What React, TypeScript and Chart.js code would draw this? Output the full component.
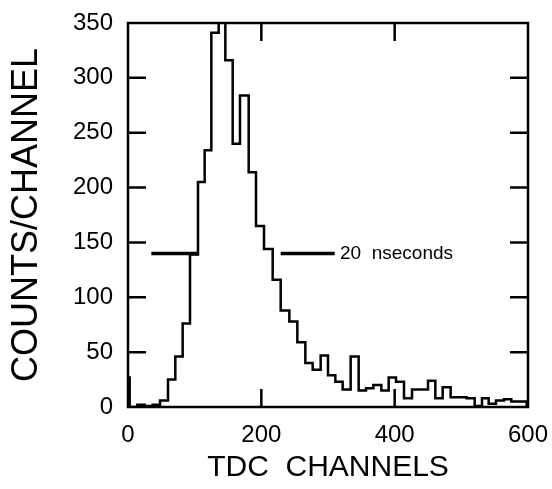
import React, { useEffect, useRef } from "react";
import { Chart, registerables } from "chart.js";

Chart.register(...registerables);

// Histogram bin edges (TDC channels) and counts per bin
const BIN_EDGES = [
  2.5, 14, 25, 37, 48, 60, 71, 82, 93, 105, 115, 125, 136, 146, 157, 168, 181, 192,
  204, 217, 229, 242, 254, 266, 277, 289, 300, 311, 322, 334, 346, 357, 368, 380,
  391, 402, 414, 426, 438, 450, 461, 472, 484, 496, 508, 520, 531, 541, 552, 564,
  575, 586, 598,
];
const COUNTS = [
  28, 0, 2, 1, 2, 6, 25, 46, 76, 139, 205, 234, 341, 360, 316, 240, 284, 214, 165,
  144, 116, 88, 78, 59, 40, 34, 47, 29, 23, 16, 46, 15, 17, 20, 15, 27, 23, 8, 16,
  16, 24, 8, 18, 9, 9, 8, 1, 8, 3, 6, 7, 5,
];

// FWHM marker (channels) and its level
const MARK_LEFT = [35, 105];
const MARK_RIGHT = [229, 310];
const MARK_LEVEL = 140;
const MARK_LABEL = "20  nseconds";
const MARK_LABEL_X = 318;

const X_TICKS = [0, 200, 400, 600];
const X_INNER_TICKS = [200, 400];
const Y_INNER_TICKS = [50, 100, 150, 200, 250, 300];

const X_TITLE = "TDC  CHANNELS";
const Y_TITLE = "COUNTS/CHANNEL";

const FONT = '"Liberation Sans", "DejaVu Sans", sans-serif';

export default function App() {
  const ref = useRef<HTMLCanvasElement>(null);

  useEffect(() => {
    const canvas = ref.current;
    if (!canvas) return;

    const n = COUNTS.length;
    const histPts = [
      { x: BIN_EDGES[0], y: 0 },
      ...COUNTS.map((c, i) => ({ x: BIN_EDGES[i], y: c })),
      { x: BIN_EDGES[n], y: COUNTS[n - 1] },
      { x: BIN_EDGES[n], y: 0 },
    ];

    const framePlugin = {
      id: "frameTicks",
      afterDatasetsDraw(chart: any) {
        const { ctx, chartArea, scales } = chart;
        const { left, right, top, bottom } = chartArea;
        const xs = scales.x;
        const ys = scales.y;
        ctx.save();
        ctx.strokeStyle = "#000";
        ctx.lineWidth = 2.5;
        ctx.strokeRect(left, top, right - left, bottom - top);
        const L = 18;
        ctx.beginPath();
        Y_INNER_TICKS.forEach((v) => {
          const py = ys.getPixelForValue(v);
          ctx.moveTo(left, py);
          ctx.lineTo(left + L, py);
          ctx.moveTo(right, py);
          ctx.lineTo(right - L, py);
        });
        X_INNER_TICKS.forEach((v) => {
          const px = xs.getPixelForValue(v);
          ctx.moveTo(px, bottom);
          ctx.lineTo(px, bottom - L);
          ctx.moveTo(px, top);
          ctx.lineTo(px, top + L);
        });
        ctx.stroke();
        ctx.fillStyle = "#000";
        ctx.font = `19px ${FONT}`;
        ctx.textBaseline = "middle";
        ctx.textAlign = "left";
        ctx.fillText(MARK_LABEL, xs.getPixelForValue(MARK_LABEL_X), ys.getPixelForValue(MARK_LEVEL));
        ctx.restore();
      },
    };

    const chart = new Chart(canvas, {
      type: "line",
      data: {
        datasets: [
          {
            data: histPts,
            stepped: "after",
            borderColor: "#000",
            borderWidth: 2.5,
            pointRadius: 0,
            fill: false,
          },
          {
            data: MARK_LEFT.map((x) => ({ x, y: MARK_LEVEL })),
            borderColor: "#000",
            borderWidth: 3.5,
            pointRadius: 0,
          },
          {
            data: MARK_RIGHT.map((x) => ({ x, y: MARK_LEVEL })),
            borderColor: "#000",
            borderWidth: 3.5,
            pointRadius: 0,
          },
        ],
      },
      options: {
        responsive: false,
        animation: false,
        plugins: { legend: { display: false }, tooltip: { enabled: false } },
        layout: { padding: { left: 0, right: 24, top: 23, bottom: 0 } },
        scales: {
          x: {
            type: "linear",
            min: 0,
            max: 600,
            afterBuildTicks: (s: any) => {
              s.ticks = X_TICKS.map((v) => ({ value: v }));
            },
            ticks: { color: "#000", font: { family: FONT, size: 24 }, padding: 14, maxRotation: 0 },
            grid: { display: false, drawTicks: false },
            border: { display: false },
            title: {
              display: true,
              text: X_TITLE,
              color: "#000",
              font: { family: FONT, size: 30 },
              padding: { top: 0, bottom: 3 },
            },
            afterFit: (s: any) => {
              s.height = 82;
              s.paddingLeft = 0;
              s.paddingRight = 0;
            },
          },
          y: {
            type: "linear",
            min: 0,
            max: 350,
            ticks: { stepSize: 50, color: "#000", font: { family: FONT, size: 24 }, padding: 15 },
            grid: { display: false, drawTicks: false },
            border: { display: false },
            title: {
              display: true,
              text: Y_TITLE,
              color: "#000",
              font: { family: FONT, size: 36 },
              padding: { top: 5, bottom: 0 },
            },
            afterFit: (s: any) => {
              s.width = 128;
              s.paddingTop = 0;
              s.paddingBottom = 0;
            },
          },
        },
      },
      plugins: [framePlugin],
    });

    return () => chart.destroy();
  }, []);

  return (
    <div style={{ position: "absolute", left: 0, top: 0, width: 552, height: 489, background: "#fff" }}>
      <canvas ref={ref} width={552} height={489} style={{ display: "block" }} />
    </div>
  );
}
